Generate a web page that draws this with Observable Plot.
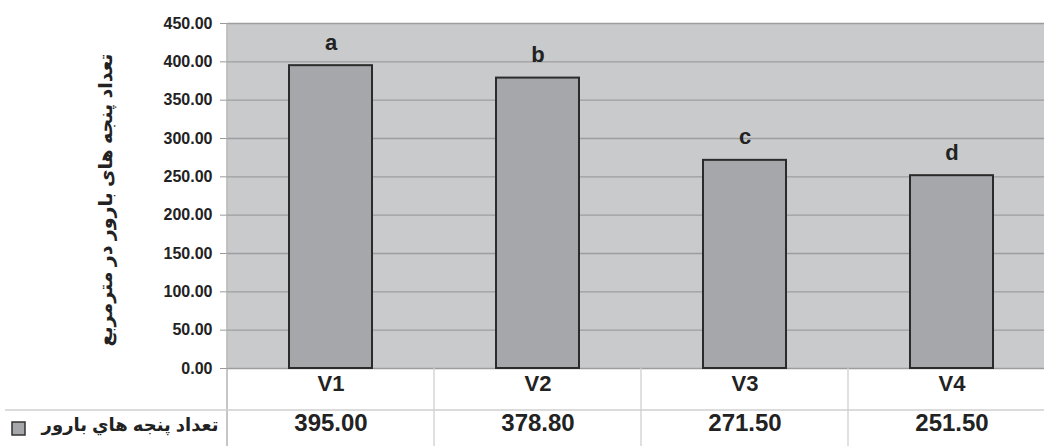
<!DOCTYPE html>
<html>
<head>
<meta charset="utf-8">
<script src="https://cdn.jsdelivr.net/npm/d3@7"></script>
<script src="https://cdn.jsdelivr.net/npm/@observablehq/plot@0.6"></script>
<style>
  html, body { margin: 0; padding: 0; background: #fff; }
  #chart svg { display: block; }
</style>
</head>
<body>
<div id="chart"></div>
<script>
const categories = ["V1", "V2", "V3", "V4"];
const values = [395.00, 378.80, 271.50, 251.50];
const letters = ["a", "b", "c", "d"];
const yTicks = [0, 50, 100, 150, 200, 250, 300, 350, 400, 450];
const seriesName = "تعداد پنجه هاي بارور";
const yTitle = "تعداد پنجه های بارور در مترمربع";

const data = categories.map((c, i) => ({cat: c, value: values[i], letter: letters[i]}));

const FONT = "'Liberation Sans', Arial, 'DejaVu Sans', sans-serif";
const INK = "#222";
const BAR = "#a6a7aa";
const BG = "#c9cacc";

const plot = Plot.plot({
  width: 1044,
  height: 446,
  marginTop: 23,
  marginBottom: 78,
  marginLeft: 227,
  marginRight: 0,
  style: {fontFamily: FONT, color: INK, background: "#fff", overflow: "visible"},
  x: {domain: categories, range: [227, 1055], padding: 0, axis: null},
  y: {domain: [0, 450], axis: null},
  marks: [
    Plot.frame({fill: BG, stroke: null}),
    Plot.gridY(yTicks, {stroke: "#9c9d9f", strokeOpacity: 1, strokeWidth: 1.3}),
    Plot.axisY(yTicks, {
      tickFormat: d => d.toFixed(2), tickSize: 7, tickPadding: 8,
      fontSize: 16, fontWeight: "bold", stroke: "#999", label: null
    }),
    Plot.barY(data, {
      x: "cat", y: "value", fill: BAR, stroke: "#2b2b2b", strokeWidth: 2,
      insetLeft: 62, insetRight: 62
    }),
    Plot.text(data, {
      x: "cat", y: "value", text: "letter", dy: -23,
      fontSize: 22, fontWeight: "bold", fill: INK
    }),
    Plot.text(categories, {
      x: d => d, frameAnchor: "bottom", dy: 22,
      fontSize: 22, fontWeight: "bold", fill: INK
    }),
    Plot.text(data, {
      x: "cat", text: d => d.value.toFixed(2), frameAnchor: "bottom", dy: 62,
      fontSize: 24, fontWeight: "bold", fill: INK
    }),
    Plot.text([seriesName], {
      text: d => d, frameAnchor: "bottom-left", dx: -9, dy: 62, textAnchor: "end",
      fontSize: 18, fontWeight: "bold", fill: INK
    }),
    Plot.text([yTitle], {
      text: d => d, frameAnchor: "left", dx: -122, dy: 4, rotate: -90, textAnchor: "middle",
      fontSize: 19, fontWeight: "bold", fill: INK
    })
  ]
});

document.getElementById("chart").appendChild(plot);

// table decoration (cell borders, legend swatch) from the plot's own scales
const xs = plot.scale("x");
const ys = plot.scale("y");
const svg = d3.select(plot);
const y0 = ys.apply(0);
const yTop = ys.apply(450);
const H = 446;
const rowY = y0 + 42;
const g = svg.append("g").attr("fill", "none");
categories.forEach((c, i) => {
  const x = xs.apply(c);
  g.append("line").attr("x1", x).attr("x2", x)
    .attr("y1", i === 0 ? yTop : y0).attr("y2", H)
    .attr("stroke", i === 0 ? "#a8a8a8" : "#cfcfcf").attr("stroke-width", 1.3);
});
g.append("line").attr("x1", 5).attr("x2", 1044).attr("y1", rowY).attr("y2", rowY)
  .attr("stroke", "#cfcfcf").attr("stroke-width", 1.3);
svg.append("rect")
  .attr("x", 12).attr("y", rowY + 12).attr("width", 13).attr("height", 13)
  .attr("fill", BAR).attr("stroke", "#333").attr("stroke-width", 1.5);
</script>
</body>
</html>
